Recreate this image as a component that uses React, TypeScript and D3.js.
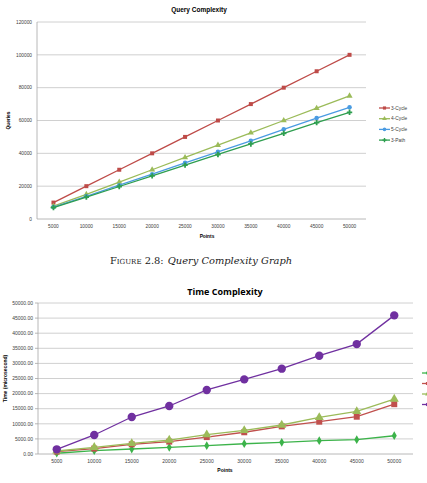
import React, { useEffect, useRef } from 'react';
import * as d3 from 'd3';

// x categories shared by both charts
const points = ['5000', '10000', '15000', '20000', '25000', '30000', '35000', '40000', '45000', '50000'];

// Query Complexity series
const q3Cycle = [10000, 20000, 30000, 40000, 50000, 60000, 70000, 80000, 90000, 100000];
const q4Cycle = [7800, 15000, 22500, 30000, 37500, 45000, 52500, 60000, 67500, 75000];
const q5Cycle = [7300, 13800, 20600, 27300, 34200, 40900, 47600, 54600, 61500, 68000];
const q3Path = [7000, 13300, 19800, 26300, 32800, 39300, 45700, 52200, 58700, 65000];
const queryTicks = [0, 20000, 40000, 60000, 80000, 100000, 120000];

// Time Complexity series
const t3Path = [250, 1100, 1650, 2200, 2750, 3400, 3850, 4400, 4750, 6050];
const t3Cycle = [800, 1800, 3200, 4100, 5600, 7200, 9150, 10700, 12350, 16500];
const t4Cycle = [1000, 2200, 3500, 4600, 6400, 7800, 9600, 12100, 14100, 18200];
const t5Cycle = [1550, 6300, 12250, 15900, 21200, 24700, 28250, 32550, 36400, 45900];
const timeTicks = [0, 5000, 10000, 15000, 20000, 25000, 30000, 35000, 40000, 45000, 50000];

type Series = { name: string; values: number[]; color: string; marker: d3.SymbolType; size: number };

const App: React.FC = () => {
  const ref = useRef<SVGSVGElement>(null);

  useEffect(() => {
    if (!ref.current) return;
    const svg = d3.select(ref.current);
    svg.selectAll('*').remove();

    const drawChart = (opts: {
      left: number; right: number; top: number; bottom: number;
      series: Series[]; ticks: number[]; fmt: (v: number) => string;
      title: string; titleX: number; titleY: number; titleSize: number; titleFont: string;
      yTitle: string; yTitleX: number; xTitleX: number; xTitleY: number;
      tickSize: number; yTickMarks: boolean;
      legendX: number; legendY: number; legendStep: number; legendText: boolean;
    }) => {
      const g = svg.append('g');
      const x = d3.scaleBand().domain(points).range([opts.left, opts.right]);
      const y = d3.scaleLinear().domain([0, d3.max(opts.ticks)!]).range([opts.bottom, opts.top]);
      const cx = (p: string) => x(p)! + x.bandwidth() / 2;

      // grid
      g.selectAll('.grid').data(opts.ticks).join('line')
        .attr('x1', opts.left).attr('x2', opts.right)
        .attr('y1', d => y(d)).attr('y2', d => y(d))
        .attr('stroke', d => (d === 0 ? '#a6a6a6' : '#c4c4c4'))
        .attr('stroke-width', 0.8);
      g.append('line')
        .attr('x1', opts.left).attr('x2', opts.left)
        .attr('y1', opts.top).attr('y2', opts.bottom)
        .attr('stroke', '#a6a6a6').attr('stroke-width', 0.8);
      if (opts.yTickMarks) {
        g.selectAll('.ytm').data(opts.ticks).join('line')
          .attr('x1', opts.left - 3).attr('x2', opts.left)
          .attr('y1', d => y(d)).attr('y2', d => y(d))
          .attr('stroke', '#a6a6a6').attr('stroke-width', 0.8);
      }

      // tick labels
      g.selectAll('.yl').data(opts.ticks).join('text')
        .attr('x', opts.left - 5).attr('y', d => y(d)).attr('dy', '0.35em')
        .attr('text-anchor', 'end').attr('font-size', opts.tickSize)
        .attr('font-family', 'Liberation Sans, Arial, sans-serif').attr('fill', '#404040')
        .text(d => opts.fmt(d));
      g.selectAll('.xl').data(points).join('text')
        .attr('x', d => cx(d)).attr('y', opts.bottom + 9)
        .attr('text-anchor', 'middle').attr('font-size', opts.tickSize)
        .attr('font-family', 'Liberation Sans, Arial, sans-serif').attr('fill', '#404040')
        .text(d => d);

      // titles
      g.append('text').attr('x', opts.titleX).attr('y', opts.titleY)
        .attr('text-anchor', 'middle').attr('font-size', opts.titleSize)
        .attr('font-weight', 'bold').attr('font-family', opts.titleFont)
        .text(opts.title);
      g.append('text').attr('x', opts.xTitleX).attr('y', opts.xTitleY)
        .attr('text-anchor', 'middle').attr('font-size', opts.tickSize)
        .attr('font-weight', 'bold').attr('font-family', 'Liberation Sans, Arial, sans-serif')
        .text('Points');
      g.append('text')
        .attr('transform', `translate(${opts.yTitleX},${(opts.top + opts.bottom) / 2}) rotate(-90)`)
        .attr('text-anchor', 'middle').attr('font-size', opts.tickSize)
        .attr('font-weight', 'bold').attr('font-family', 'Liberation Sans, Arial, sans-serif')
        .text(opts.yTitle);

      // lines and markers
      const line = d3.line<number>().x((_, i) => cx(points[i])).y(d => y(d));
      opts.series.forEach(s => {
        g.append('path').attr('d', line(s.values)).attr('fill', 'none')
          .attr('stroke', s.color).attr('stroke-width', 1.3);
        g.selectAll(null).data(s.values).join('path')
          .attr('transform', (d, i) => `translate(${cx(points[i])},${y(d)})`)
          .attr('d', d3.symbol().type(s.marker).size(s.size)())
          .attr('fill', s.color);
      });

      // legend (bottom chart's legend runs off the right edge, only the keys show)
      opts.series.forEach((s, i) => {
        const ly = opts.legendY + i * opts.legendStep;
        g.append('line').attr('x1', opts.legendX).attr('x2', opts.legendX + 11)
          .attr('y1', ly).attr('y2', ly).attr('stroke', s.color).attr('stroke-width', 1.3);
        g.append('path').attr('transform', `translate(${opts.legendX + 5.5},${ly})`)
          .attr('d', d3.symbol().type(s.marker).size(Math.min(s.size, 10))())
          .attr('fill', s.color);
        if (opts.legendText) {
          g.append('text').attr('x', opts.legendX + 12).attr('y', ly).attr('dy', '0.35em')
            .attr('font-size', opts.tickSize).attr('font-family', 'Liberation Sans, Arial, sans-serif')
            .attr('fill', '#404040').text(s.name);
        }
      });
    };

    drawChart({
      left: 37, right: 366, top: 22, bottom: 219,
      series: [
        { name: '3-Cycle', values: q3Cycle, color: '#be4b48', marker: d3.symbolSquare, size: 16 },
        { name: '4-Cycle', values: q4Cycle, color: '#9bbb59', marker: d3.symbolTriangle, size: 16 },
        { name: '5-Cycle', values: q5Cycle, color: '#4a9be2', marker: d3.symbolCircle, size: 16 },
        { name: '3-Path', values: q3Path, color: '#2e9e4f', marker: d3.symbolCross, size: 16 },
      ],
      ticks: queryTicks, fmt: d => String(d),
      title: 'Query Complexity', titleX: 199, titleY: 12, titleSize: 6.5,
      titleFont: 'Liberation Sans, Arial, sans-serif',
      yTitle: 'Queries', yTitleX: 10, xTitleX: 207, xTitleY: 238,
      tickSize: 4.8, yTickMarks: false,
      legendX: 379, legendY: 108, legendStep: 10.7, legendText: true,
    });

    drawChart({
      left: 38, right: 413, top: 303, bottom: 454,
      series: [
        { name: '3-Path', values: t3Path, color: '#3cb34a', marker: d3.symbolDiamond, size: 22 },
        { name: '3-Cycle', values: t3Cycle, color: '#c0504d', marker: d3.symbolSquare, size: 36 },
        { name: '4-Cycle', values: t4Cycle, color: '#9bbb59', marker: d3.symbolTriangle, size: 36 },
        { name: '5-Cycle', values: t5Cycle, color: '#7030a0', marker: d3.symbolCircle, size: 55 },
      ],
      ticks: timeTicks, fmt: d => d.toFixed(2),
      title: 'Time Complexity', titleX: 225, titleY: 295, titleSize: 9,
      titleFont: 'Open Sans, Liberation Sans, sans-serif',
      yTitle: 'Time (microsecond)', yTitleX: 7, xTitleX: 225, xTitleY: 472,
      tickSize: 5, yTickMarks: true,
      legendX: 422, legendY: 373, legendStep: 10.5, legendText: false,
    });

    // caption
    const cap = svg.append('text').attr('x', 110).attr('y', 264)
      .attr('font-size', 9.9).attr('font-family', 'DejaVu Serif, Liberation Serif, serif')
      .attr('fill', '#222');
    cap.append('tspan').attr('font-variant', 'small-caps').text('Figure 2.8:');
    cap.append('tspan').attr('dx', 4).attr('font-style', 'italic').text('Query Complexity Graph');
  }, []);

  return (
    <svg ref={ref} width={427} height={483}
      style={{ position: 'absolute', left: 0, top: 0, background: '#fff' }} />
  );
};

export default App;
